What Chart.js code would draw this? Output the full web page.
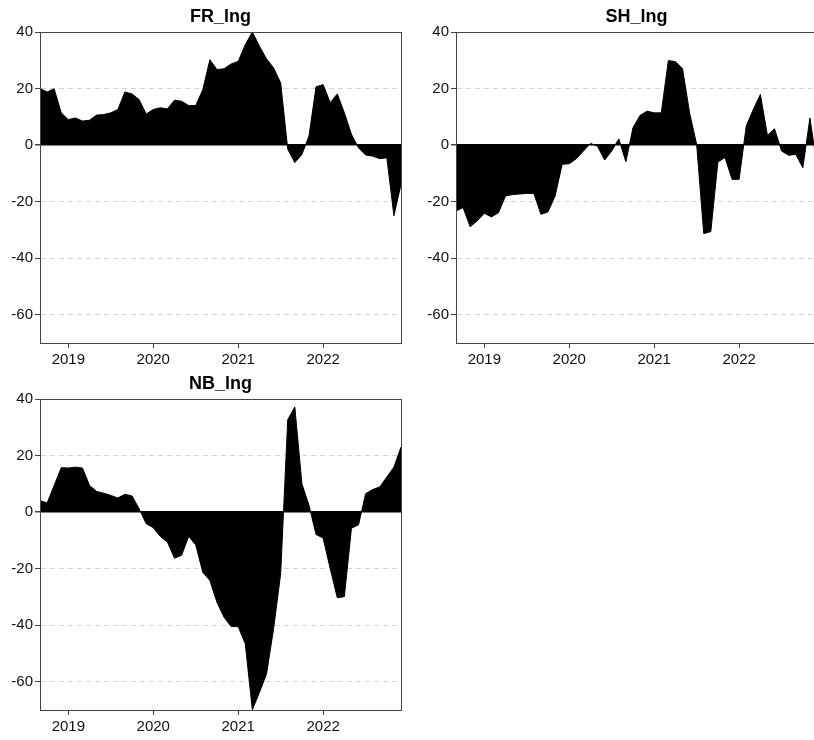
<!DOCTYPE html>
<html><head><meta charset="utf-8">
<script src="https://cdn.jsdelivr.net/npm/chart.js@4"></script>
<style>
html,body{margin:0;padding:0;background:#fff;overflow:hidden;width:814px;height:740px;position:relative;}
canvas{position:absolute;}
</style></head><body>
<canvas id="c1" width="407" height="370" style="left:0px;top:0px"></canvas>
<canvas id="c2" width="407" height="370" style="left:416px;top:0px"></canvas>
<canvas id="c3" width="407" height="370" style="left:0px;top:367px"></canvas>
<script>
const months = [
 '2018-09','2018-10','2018-11','2018-12',
 '2019-01','2019-02','2019-03','2019-04','2019-05','2019-06','2019-07','2019-08','2019-09','2019-10','2019-11','2019-12',
 '2020-01','2020-02','2020-03','2020-04','2020-05','2020-06','2020-07','2020-08','2020-09','2020-10','2020-11','2020-12',
 '2021-01','2021-02','2021-03','2021-04','2021-05','2021-06','2021-07','2021-08','2021-09','2021-10','2021-11','2021-12',
 '2022-01','2022-02','2022-03','2022-04','2022-05','2022-06','2022-07','2022-08','2022-09','2022-10','2022-11','2022-12'
];
const yearTickMonths = ['2019-01','2020-01','2021-01','2022-01'];
const yTicks = [-60,-40,-20,0,20,40];

const FR_lng = [20,18.8,19.9,11.4,9,9.6,8.5,8.8,10.6,10.8,11.4,12.6,18.8,18.1,16.1,11,
 12.6,13.2,12.8,15.9,15.5,14,14,19.6,30.2,26.7,27,28.7,29.6,35.5,40,35,
 30.5,27.3,22,-1.5,-6.2,-3.3,3.2,20.6,21.4,15,18.1,11.4,3.8,-1,-3.5,-3.9,-4.8,-4.5,-25,-13.9];

const SH_lng = [-23.3,-22.1,-28.9,-26.8,-24.1,-25.4,-23.9,-18,-17.5,-17.3,-17.1,-17.1,-24.5,-23.6,-18,-6.8,
 -6.6,-4.8,-2.1,0.6,-0.4,-5.3,-2.1,2.2,-5.9,6.1,10.5,12,11.4,11.4,29.9,29.5,
 27.1,11.4,0.2,-31.3,-30.6,-6,-4.4,-12.1,-12.1,6.7,12.6,17.9,3.4,5.8,-2.1,-3.6,-3.3,-8,9.6,-7];

const NB_lng = [4.1,3.2,9.4,15.7,15.6,15.9,15.6,9.4,7.3,6.7,5.9,5,6.3,5.7,1.2,-4.1,
 -5.5,-8.6,-10.6,-16.3,-15.3,-8.6,-11.6,-21.3,-24.2,-31.9,-37.2,-40.5,-40.5,-46.6,-69.9,-63.8,
 -57.3,-41.3,-21.8,32.7,37.2,10,2.4,-7.9,-9.2,-20,-30.3,-29.9,-5.7,-4.5,6.5,8,8.9,12.4,15.9,23];

const FONT = "'Liberation Sans', Arial, sans-serif";
const AXIS = '#444';

const frame = {
  id: 'frame',
  afterDraw(chart) {
    const a = chart.chartArea, c = chart.ctx;
    c.save();
    c.strokeStyle = AXIS; c.lineWidth = 1;
    c.strokeRect(Math.round(a.left) + 0.5, Math.round(a.top) + 0.5,
                 Math.round(a.right - a.left), Math.round(a.bottom - a.top));
    c.restore();
  }
};

function makeChart(id, title, values) {
  new Chart(document.getElementById(id), {
    type: 'line',
    data: {
      labels: months,
      datasets: [{
        data: values,
        fill: 'origin',
        backgroundColor: '#000',
        borderColor: '#000',
        borderWidth: 1,
        pointRadius: 0,
        tension: 0
      }]
    },
    plugins: [frame],
    options: {
      responsive: false,
      animation: false,
      devicePixelRatio: 1,
      layout: { padding: { left: 0, right: 6, top: 0, bottom: 0 } },
      plugins: {
        legend: { display: false },
        tooltip: { enabled: false },
        title: {
          display: true, text: title, color: '#000', fullSize: false,
          font: { family: FONT, size: 18, weight: 'bold' },
          padding: { top: 6, bottom: 4.4 }
        }
      },
      scales: {
        x: {
          type: 'category',
          offset: false,
          afterBuildTicks(scale) {
            scale.ticks = months.map((m, i) => ({ value: i }))
              .filter(t => yearTickMonths.includes(months[t.value]));
          },
          afterFit(scale) { scale.height = 27; },
          ticks: {
            autoSkip: false, maxRotation: 0, color: '#111', padding: 3,
            font: { family: FONT, size: 15 },
            callback: (v) => months[v].slice(0, 4)
          },
          grid: { display: true, drawOnChartArea: false, drawTicks: true, tickLength: 5, tickColor: AXIS, color: AXIS },
          border: { display: true, color: AXIS, width: 1 }
        },
        y: {
          min: -70, max: 40,
          afterBuildTicks(scale) { scale.ticks = yTicks.map(v => ({ value: v })); },
          afterFit(scale) { scale.width = 40; },
          ticks: { color: '#111', padding: 2, font: { family: FONT, size: 15 } },
          grid: {
            drawTicks: true, tickLength: 5, tickColor: AXIS,
            color: (ctx) => (ctx.tick && ctx.tick.value === 0) ? '#000' : '#d4d4d4',
            lineWidth: (ctx) => (ctx.tick && ctx.tick.value === 0) ? 1.5 : 1
          },
          border: {
            display: true, color: AXIS, width: 1,
            dash: (ctx) => (ctx.tick && ctx.tick.value === 0) ? [] : [5, 4]
          }
        }
      }
    }
  });
}

makeChart('c1', 'FR_lng', FR_lng);
makeChart('c2', 'SH_lng', SH_lng);
makeChart('c3', 'NB_lng', NB_lng);
</script>
</body></html>
